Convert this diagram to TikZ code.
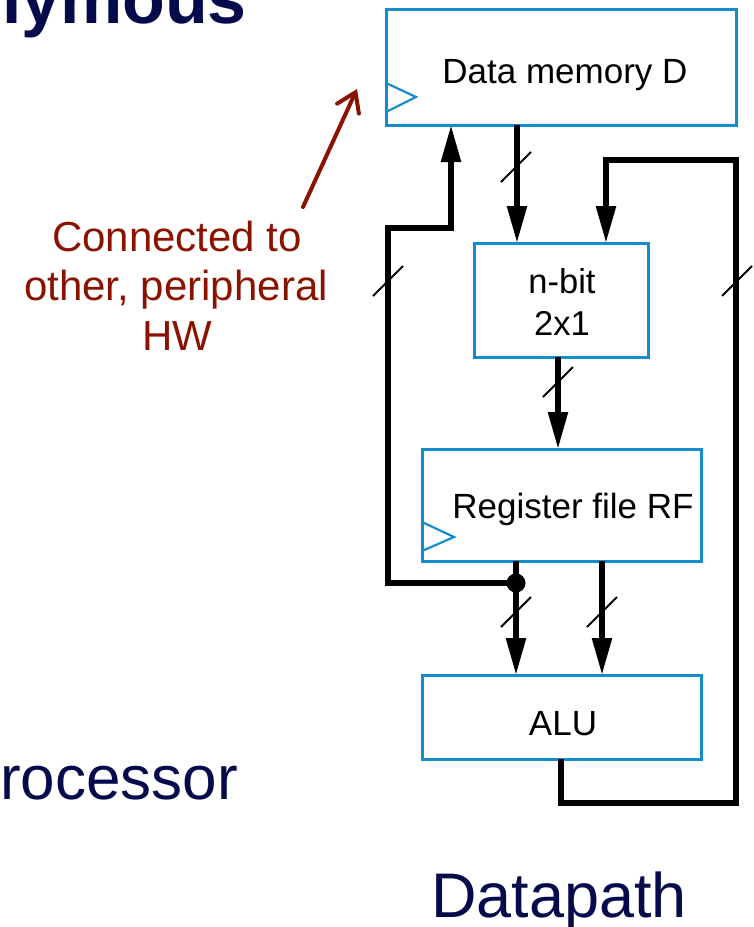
\documentclass[tikz,border=0pt]{standalone}
\usepackage{fontspec}
\setmainfont{Liberation Sans}
\usetikzlibrary{arrows.meta}
\definecolor{boxblue}{RGB}{20,140,205}
\definecolor{navy}{RGB}{5,10,75}
\definecolor{darkred}{RGB}{140,18,0}
\begin{document}
\begin{tikzpicture}[x=1pt,y=-1pt,
  box/.style={draw=boxblue,line width=3pt,rectangle,inner sep=0pt,outer sep=0pt},
  bus/.style={line width=5.5pt,draw=black},
  arr/.style={bus,-{Triangle[length=37pt,width=19pt]}},
  slashmark/.style={line width=2pt,draw=black},
  clk/.style={draw=boxblue,line width=2.2pt},
  lbl/.style={font=\fontsize{35}{42}\selectfont,inner sep=0pt},
  lbltwo/.style={font=\fontsize{34.5}{40}\selectfont,inner sep=0pt},
  redtxt/.style={text=darkred,font=\fontsize{42}{50}\selectfont,inner sep=0pt},
  bigtxt/.style={text=navy,inner sep=0pt}]

\useasboundingbox (0,0) rectangle (753,927);
\clip (0,0) rectangle (753,927);

% slide text fragments
\node[bigtxt,font=\fontsize{70}{84}\selectfont\bfseries,anchor=base east] (title) at (247,23) {nymous};
\node[bigtxt,font=\fontsize{62}{74}\selectfont,anchor=base east] (proc) at (238,799) {rocessor};
\node[bigtxt,font=\fontsize{63}{76}\selectfont,anchor=base west] (dp) at (431,917) {Datapath};

% boxes
\node[box,minimum width=350pt,minimum height=116pt] (D) at (561,67) {};
\node[box,minimum width=174pt,minimum height=114pt] (M) at (561,300) {};
\node[box,minimum width=279pt,minimum height=112pt] (R) at (561.5,505) {};
\node[box,minimum width=279pt,minimum height=84pt] (A) at (561.5,717) {};

% labels
\node[lbl,anchor=base] (Dt) at (565,83) {Data memory D};
\node[lbltwo,anchor=base] (Mt1) at (562,293) {n-bit};
\node[lbltwo,anchor=base] (Mt2) at (562,335) {2x1};
\node[lbl,anchor=base] (Rt) at (573,518) {Register file RF};
\node[lbl,anchor=base] (At) at (563,735) {ALU};

% clock marks
\draw[clk] (D.west |- 0,83) -- (416,97) -- (D.west |- 0,112);
\draw[clk] (R.west |- 0,522) -- (454,537) -- (R.west |- 0,551);

% buses
\coordinate (J) at (516,583);
\draw[arr] (D.south -| 517,0) -- (M.north -| 517,0);
\draw[arr] (A.south -| 561,0) -- (561,803) -- (736,803) -- (736,160) -- (606,160) -- (M.north -| 606,0);
\draw[arr] (J) -- (388,583) -- (388,228) -- (451,228) -- (D.south -| 451,0);
\draw[arr] (M.south -| 558,0) -- (R.north -| 558,0);
\draw[arr] (R.south -| 516,0) -- (A.north -| 516,0);
\draw[arr] (R.south -| 602,0) -- (A.north -| 602,0);
\fill (J) circle (9.5);

% bus-width slashes
\foreach \n/\p in {s1/{516,167},s2/{737,281},s3/{388,281},s4/{558,382},s5/{516,612},s6/{602,612}}{
  \coordinate (\n) at (\p);
  \draw[slashmark] ([shift={(-15,15)}]\n) -- ([shift={(15,-15)}]\n);
}

% annotation
\node[redtxt,anchor=base] (n1) at (177,251) {Connected to};
\node[redtxt,anchor=base] (n2) at (176,300) {other, peripheral};
\node[redtxt,anchor=base] (n3) at (177,350) {HW};
\coordinate (ntail) at (303,207);
\coordinate (nhead) at (357,89);
\draw[darkred,line width=4pt,line cap=round,-{Straight Barb[length=18pt,width=24pt,line cap=round]}] (ntail) -- (nhead);
\end{tikzpicture}
\end{document}
